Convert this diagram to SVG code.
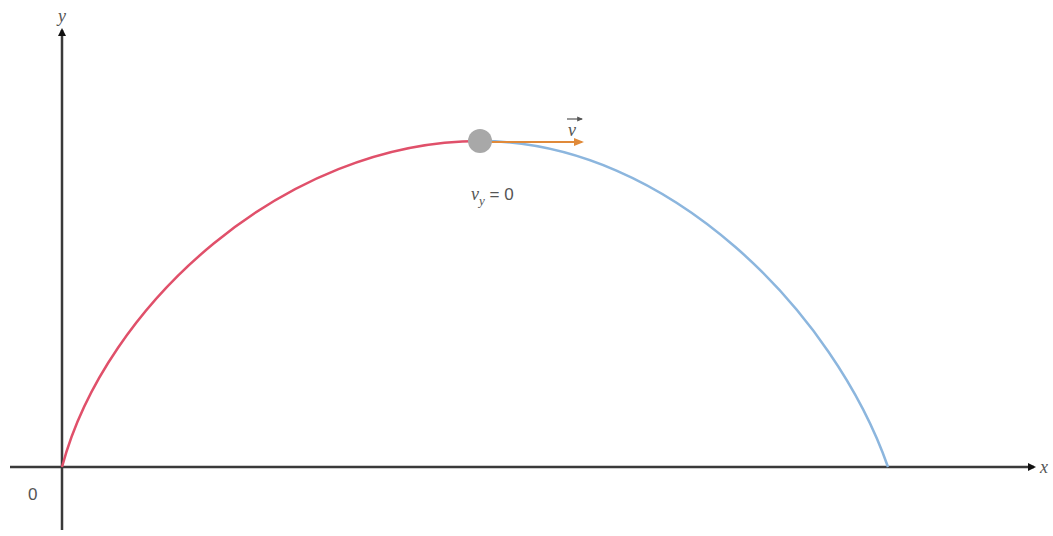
<svg xmlns="http://www.w3.org/2000/svg" width="1053" height="536" viewBox="0 0 1053 536">
<style>
.axis{stroke:#3a3a3a;stroke-width:2.5;fill:none}
.lbl{font-family:"Liberation Serif",serif;font-style:italic;fill:#555;font-size:18px}
.sans{font-family:"Liberation Sans",sans-serif;fill:#555;font-size:17px}
</style>
<defs>
<marker id="ah" markerWidth="8" markerHeight="8" refX="6" refY="4" orient="auto" markerUnits="userSpaceOnUse"><path d="M0,0 L8,4 L0,8 Z" fill="#111"/></marker>
<marker id="ahv" viewBox="0 0 10 10" markerWidth="10" markerHeight="10" refX="8" refY="5" orient="auto" markerUnits="userSpaceOnUse"><path d="M0,1 L10,5 L0,9 Z" fill="#e08a3a"/></marker>
<marker id="ahs" viewBox="0 0 10 10" markerWidth="6" markerHeight="6" refX="8" refY="5" orient="auto" markerUnits="userSpaceOnUse"><path d="M0,1 L10,5 L0,9 Z" fill="#555"/></marker>
</defs>
<rect width="1053" height="536" fill="#fff"/>
<g id="connectors">
<line id="xaxis" class="axis" x1="10" y1="467" x2="1034" y2="467" marker-end="url(#ah)"/>
<line id="yaxis" class="axis" x1="62" y1="530" x2="62" y2="30" marker-end="url(#ah)"/>
<path id="rise" d="M62,467 C105,305 285,141 480,141" fill="none" stroke="#e0506a" stroke-width="2.5"/>
<path id="fall" d="M480,141 C670,141 835,315 888,467" fill="none" stroke="#8cb6de" stroke-width="2.5"/>
<line id="velocity" x1="490" y1="142" x2="582" y2="142" stroke="#e08a3a" stroke-width="2" marker-end="url(#ahv)"/>
</g>
<g id="ball"><circle cx="480" cy="141" r="12" fill="#a8a8a8"/></g>
<g id="labels">
<text class="lbl" x="58" y="22">y</text>
<text class="lbl" x="1040" y="473">x</text>
<text class="sans" x="28" y="500">0</text>
<text class="lbl" x="568" y="136">v</text>
<line x1="567" y1="119" x2="582" y2="119" stroke="#555" stroke-width="1.2" marker-end="url(#ahs)"/>
<text class="lbl" x="471" y="200">v<tspan font-size="13" dy="5">y</tspan><tspan class="sans" dy="-5" font-style="normal"> = 0</tspan></text>
</g>
</svg>
